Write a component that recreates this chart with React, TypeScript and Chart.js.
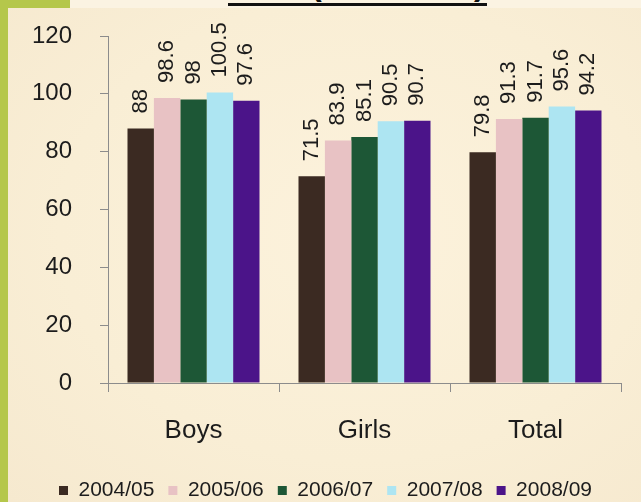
import React, { useEffect, useRef } from "react";
import { Chart, registerables } from "chart.js";

Chart.register(...registerables);

const categories = ["Boys", "Girls", "Total"];
const seriesNames = ["2004/05", "2005/06", "2006/07", "2007/08", "2008/09"];
const v200405 = [88, 71.5, 79.8];
const v200506 = [98.6, 83.9, 91.3];
const v200607 = [98, 85.1, 91.7];
const v200708 = [100.5, 90.5, 95.6];
const v200809 = [97.6, 90.7, 94.2];
const yTicks = [0, 20, 40, 60, 80, 100, 120];
const seriesColors = ["#3b2a22", "#e8c2c4", "#1d5736", "#ade5f2", "#4b1489"];

const FONT = "'Liberation Sans', Arial, Helvetica, sans-serif";
const TEXT = "#1c1c1c";
const AXIS = "#8c8c8c";

const barLabels = {
  id: "barLabels",
  afterDatasetsDraw(chart: any) {
    const ctx = chart.ctx;
    ctx.save();
    ctx.font = `22px ${FONT}`;
    ctx.fillStyle = TEXT;
    ctx.textAlign = "left";
    ctx.textBaseline = "middle";
    chart.data.datasets.forEach((ds: any, di: number) => {
      const meta = chart.getDatasetMeta(di);
      meta.data.forEach((bar: any, i: number) => {
        ctx.save();
        ctx.translate(bar.x, bar.y - 15);
        ctx.rotate(-Math.PI / 2);
        ctx.fillText(String(ds.data[i]), 0, 0);
        ctx.restore();
      });
    });
    ctx.restore();
  },
};

export default function App() {
  const ref = useRef<HTMLCanvasElement | null>(null);

  useEffect(() => {
    if (!ref.current) return;
    const values = [v200405, v200506, v200607, v200708, v200809];
    const chart = new Chart(ref.current, {
      type: "bar",
      data: {
        labels: categories,
        datasets: seriesNames.map((name, i) => ({
          label: name,
          data: values[i],
          backgroundColor: seriesColors[i],
          borderWidth: 0,
          barPercentage: 1,
          categoryPercentage: 0.772,
        })),
      },
      options: {
        responsive: false,
        animation: false,
        layout: { padding: { left: 30, right: 20, top: 36, bottom: 0 } },
        plugins: {
          tooltip: { enabled: false },
          legend: {
            position: "bottom",
            labels: {
              boxWidth: 9,
              boxHeight: 9,
              padding: 14,
              color: TEXT,
              font: { family: FONT, size: 21 },
            },
          },
        },
        scales: {
          x: {
            afterFit: (s: any) => {
              s.height = 83;
            },
            grid: { drawOnChartArea: false, tickLength: 9, color: AXIS, offset: true },
            border: { display: true, color: AXIS, width: 1 },
            ticks: { color: TEXT, font: { family: FONT, size: 26 }, padding: 23 },
          },
          y: {
            min: 0,
            max: 120,
            afterBuildTicks: (s: any) => {
              s.ticks = yTicks.map((v) => ({ value: v }));
            },
            afterFit: (s: any) => {
              s.width = 78;
              s.paddingTop = 0;
              s.paddingBottom = 0;
            },
            grid: { drawOnChartArea: false, tickLength: 8, color: AXIS },
            border: { display: true, color: AXIS, width: 1 },
            ticks: { color: TEXT, font: { family: FONT, size: 24 }, padding: 28 },
          },
        },
      },
      plugins: [barLabels],
    } as any);
    return () => chart.destroy();
  }, []);

  return (
    <div
      style={{
        position: "fixed",
        left: 0,
        top: 0,
        width: 641,
        height: 502,
        overflow: "hidden",
        background: "#fbf3e2",
      }}
    >
      <div
        style={{
          position: "absolute",
          left: 8,
          top: 8,
          width: 633,
          height: 494,
          background:
            "radial-gradient(ellipse at 55% 45%, #fcf2dc 0%, #f9eed5 60%, #f6e9cf 100%)",
        }}
      />
      <div style={{ position: "absolute", left: 0, top: 0, width: 8, height: 502, background: "#b5c74b" }} />
      <div style={{ position: "absolute", left: 0, top: 0, width: 70, height: 8, background: "#b5c74b" }} />
      <div
        style={{
          position: "absolute",
          left: 228,
          top: -34,
          width: 259,
          height: 35,
          overflow: "visible",
          fontFamily: FONT,
          fontWeight: "bold",
          fontSize: 33,
          lineHeight: "35px",
          color: "#111",
          whiteSpace: "nowrap",
          textAlign: "center",
        }}
      >
        GER (Grade 1-8)
      </div>
      <div style={{ position: "absolute", left: 228, top: 3, width: 259, height: 3, background: "#111" }} />
      <canvas
        ref={ref}
        width={641}
        height={511}
        style={{ position: "absolute", left: 0, top: 0, width: 641, height: 511 }}
      />
    </div>
  );
}
